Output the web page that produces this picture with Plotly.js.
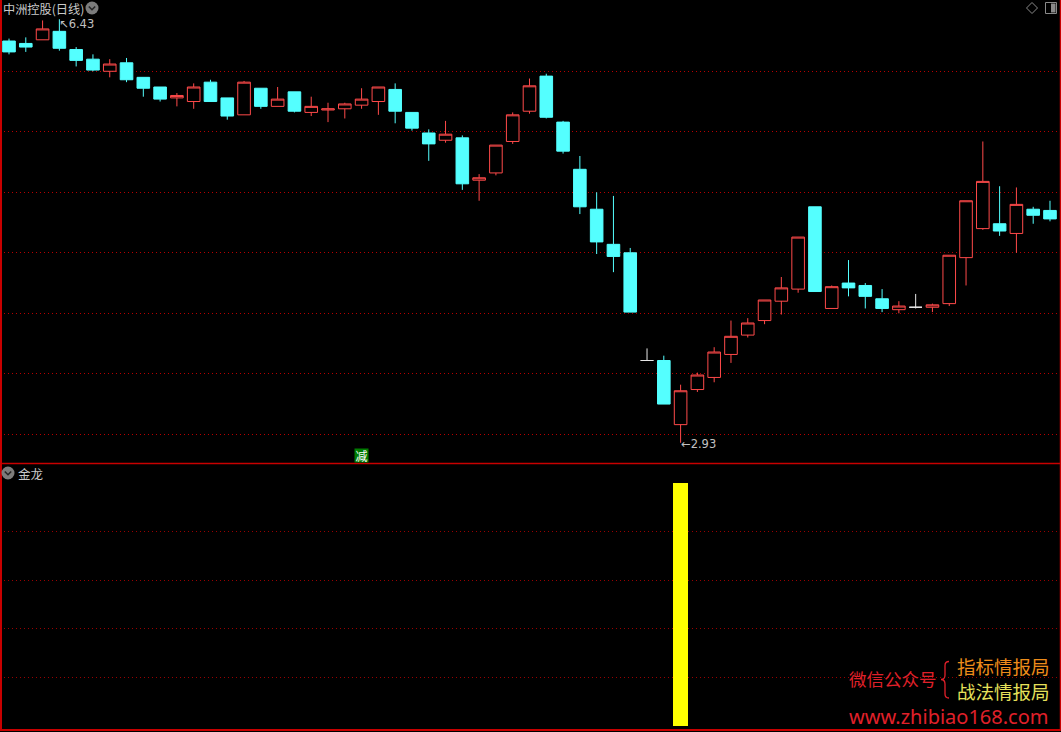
<!DOCTYPE html>
<html><head><meta charset="utf-8">
<script src="https://cdn.plot.ly/plotly-3.0.1.min.js"></script>
<style>html,body{margin:0;padding:0;background:#000;overflow:hidden}#chart{width:1061px;height:732px}</style>
</head><body><div id="chart"></div>
<script>
// ---------- data ----------
const stockName = '中洲控股(日线)';
const indicatorName = '金龙';
const opens  = [6.25,6.23,6.26,6.33,6.18,6.10,6.00,6.07,5.95,5.87,5.78,5.75,5.91,5.78,5.64,5.86,5.71,5.83,5.66,5.68,5.69,5.72,5.75,5.85,5.66,5.49,5.43,5.45,5.10,5.16,5.42,5.67,5.96,5.58,5.19,4.86,4.57,4.50,3.61,3.61,3.08,3.37,3.47,3.66,3.82,3.94,4.10,4.20,4.88,4.04,4.25,4.23,4.12,4.03,4.05,4.05,4.08,4.46,4.70,4.74,4.66,4.86,4.85];
const highs  = [6.27,6.28,6.42,6.43,6.20,6.14,6.10,6.11,5.95,5.87,5.82,5.90,5.93,5.78,5.92,5.86,5.87,5.83,5.79,5.74,5.74,5.86,5.87,5.90,5.66,5.52,5.59,5.47,5.15,5.39,5.66,5.94,5.98,5.59,5.30,5.00,4.97,4.54,3.71,3.65,3.41,3.51,3.72,3.94,3.96,4.11,4.30,4.63,4.88,4.23,4.44,4.25,4.20,4.10,4.16,4.08,4.48,4.93,5.42,5.05,5.04,4.88,4.93];
const lows   = [6.14,6.16,6.26,6.17,6.04,6.00,5.95,5.91,5.79,5.75,5.71,5.69,5.75,5.60,5.64,5.69,5.71,5.66,5.63,5.58,5.61,5.69,5.64,5.57,5.51,5.26,5.41,5.02,4.93,5.14,5.40,5.65,5.61,5.32,4.82,4.49,4.34,4.01,3.61,3.25,2.93,3.35,3.43,3.59,3.80,3.91,3.99,4.17,4.18,4.04,4.14,4.04,4.01,4.00,4.04,4.01,4.06,4.23,4.69,4.64,4.50,4.74,4.76];
const closes = [6.16,6.20,6.35,6.19,6.09,6.01,6.06,5.93,5.86,5.77,5.80,5.87,5.75,5.63,5.91,5.71,5.77,5.67,5.71,5.69,5.73,5.77,5.87,5.67,5.53,5.40,5.48,5.07,5.12,5.39,5.64,5.88,5.62,5.34,4.88,4.59,4.47,4.01,3.61,3.25,3.36,3.49,3.68,3.81,3.92,4.11,4.21,4.63,4.18,4.22,4.21,4.14,4.04,4.06,4.05,4.07,4.48,4.93,5.09,4.68,4.90,4.81,4.78];
const signal = [0,0,0,0,0,0,0,0,0,0,0,0,0,0,0,0,0,0,0,0,0,0,0,0,0,0,0,0,0,0,0,0,0,0,0,0,0,0,0,0,1,0,0,0,0,0,0,0,0,0,0,0,0,0,0,0,0,0,0,0,0,0,0];
const gridPrices = [3.0,3.5,4.0,4.5,5.0,5.5,6.0];
const gridSignal = [0.2,0.4,0.6,0.8];
const markerIndex = 21;
const markerText = '减';
const wmLeft = '微信公众号';
const wmTop = '指标情报局';
const wmBottom = '战法情报局';
const wmUrl = 'www.zhibiao168.com';

// ---------- styles ----------
const RED = '#ff4a4a', CYAN = '#54ffff', WHITE = '#e8e8e8';
const BORDER = '#c80000', GRID = '#b80000', GRID2 = '#9a0000';
const W = 1061, H = 732;
const px = v => v / W;
const py = v => 1 - v / H;
const CJK = 'Noto Sans CJK SC, Noto Sans, sans-serif';

const xIdx = closes.map((c, i) => i);
const groups = {up:{x:[],o:[],h:[],l:[],c:[]}, down:{x:[],o:[],h:[],l:[],c:[]}, flat:{x:[],o:[],h:[],l:[],c:[]}};
closes.forEach((c, i) => {
  const k = c > opens[i] ? 'up' : (c < opens[i] ? 'down' : 'flat');
  const g = groups[k];
  g.x.push(xIdx[i]); g.o.push(opens[i]); g.h.push(highs[i]); g.l.push(lows[i]); g.c.push(c);
});
function candle(g, lineCol, fillCol) {
  return {type:'candlestick', x:g.x, open:g.o, high:g.h, low:g.l, close:g.c,
    xaxis:'x', yaxis:'y', whiskerwidth:0, hoverinfo:'skip', showlegend:false,
    increasing:{line:{color:lineCol, width:1}, fillcolor:fillCol},
    decreasing:{line:{color:lineCol, width:1}, fillcolor:fillCol}};
}
const traces = [
  candle(groups.up, RED, '#000000'),
  candle(groups.down, CYAN, CYAN),
  candle(groups.flat, WHITE, WHITE),
  {type:'bar', x:xIdx, y:signal, xaxis:'x', yaxis:'y2', width:0.9,
   marker:{color:'#ffff00', line:{width:0}}, hoverinfo:'skip', showlegend:false}
];

const hiVal = Math.max(...highs), loVal = Math.min(...lows);
const hiIdx = highs.indexOf(hiVal), loIdx = lows.indexOf(loVal);

const shapes = [
  {type:'line', xref:'paper', yref:'paper', x0:px(1), x1:px(1), y0:py(0), y1:py(731), line:{color:BORDER, width:2}},
  {type:'line', xref:'paper', yref:'paper', x0:px(1060.5), x1:px(1060.5), y0:py(0), y1:py(731), line:{color:BORDER, width:1.5}},
  {type:'line', xref:'paper', yref:'paper', x0:0, x1:1, y0:py(463.5), y1:py(463.5), line:{color:BORDER, width:1.5}},
  {type:'line', xref:'paper', yref:'paper', x0:0, x1:1, y0:py(730), y1:py(730), line:{color:BORDER, width:2}},
  // title icon
  {type:'circle', xref:'paper', yref:'paper', x0:px(85.5), x1:px(98.5), y0:py(14.5), y1:py(1.5), fillcolor:'#7c7c7c', line:{width:0}},
  {type:'path', xref:'paper', yref:'paper', path:`M ${px(88.8)},${py(6.5)} L ${px(92)},${py(9.7)} L ${px(95.2)},${py(6.5)}`, line:{color:'#262626', width:1.6}},
  // indicator icon
  {type:'circle', xref:'paper', yref:'paper', x0:px(1.5), x1:px(14.5), y0:py(479.5), y1:py(466.5), fillcolor:'#7c7c7c', line:{width:0}},
  {type:'path', xref:'paper', yref:'paper', path:`M ${px(4.8)},${py(471.5)} L ${px(8)},${py(474.7)} L ${px(11.2)},${py(471.5)}`, line:{color:'#262626', width:1.6}},
  // top-right icons
  {type:'path', xref:'paper', yref:'paper', path:`M ${px(1032)},${py(2.5)} L ${px(1037.5)},${py(8)} L ${px(1032)},${py(13.5)} L ${px(1026.5)},${py(8)} Z`, line:{color:'#8a8a8a', width:1}},
  {type:'rect', xref:'paper', yref:'paper', x0:px(1045.5), x1:px(1056.5), y0:py(13.5), y1:py(2.5), line:{color:'#8a8a8a', width:1}},
  {type:'rect', xref:'paper', yref:'paper', x0:px(1051), x1:px(1055.5), y0:py(12.5), y1:py(3.5), fillcolor:'#8a8a8a', line:{width:0}},
  // watermark brace
  {type:'path', xref:'paper', yref:'paper', line:{color:'#e0202a', width:1.3},
   path:`M ${px(949)},${py(661.5)} Q ${px(945)},${py(661.5)} ${px(945)},${py(665.5)} L ${px(945)},${py(675)} Q ${px(945)},${py(679.5)} ${px(941)},${py(679.5)} Q ${px(945)},${py(679.5)} ${px(945)},${py(684)} L ${px(945)},${py(694)} Q ${px(945)},${py(698)} ${px(949)},${py(698)}`}
];

const ann = (o) => Object.assign({showarrow:false, xanchor:'left', yanchor:'middle', borderpad:0}, o);
const annotations = [
  ann({xref:'paper', yref:'paper', x:px(1.5), y:py(8.5), text:stockName, font:{family:CJK, size:12.2, color:'#c8c8c8'}}),
  ann({xref:'paper', yref:'paper', x:px(17), y:py(473), text:indicatorName, font:{family:CJK, size:12.5, color:'#c8c8c8'}}),
  ann({xref:'x', yref:'y', x:hiIdx, y:hiVal, yshift:-5, xshift:-1, text:'↖' + hiVal.toFixed(2), font:{family:'DejaVu Sans', size:11.5, color:'#c0c0c0'}}),
  ann({xref:'x', yref:'y', x:loIdx, y:loVal, yshift:-1, xshift:-1, text:'←' + loVal.toFixed(2), font:{family:'DejaVu Sans', size:11.5, color:'#c0c0c0'}}),
  ann({xref:'x', yref:'paper', x:markerIndex, y:py(455.5), xanchor:'center', width:13, height:13, bgcolor:'#007c00', text:markerText, font:{family:CJK, size:12, color:'#ffffff'}}),
  ann({xref:'paper', yref:'paper', x:px(848), y:py(678.5), text:wmLeft, font:{family:CJK, size:17.5, color:'#e0202a'}}),
  ann({xref:'paper', yref:'paper', x:px(956), y:py(666), text:wmTop, font:{family:CJK, size:18.5, color:'#ee8c1a'}}),
  ann({xref:'paper', yref:'paper', x:px(956), y:py(691), text:wmBottom, font:{family:CJK, size:18.5, color:'#e6e05a'}}),
  ann({xref:'paper', yref:'paper', x:px(848), y:py(716), text:wmUrl, font:{family:'Noto Sans', size:20, color:'#e0202a'}})
];

const hiddenAxis = {showticklabels:false, zeroline:false, showline:false, ticks:'', fixedrange:true};
const layout = {
  width: W, height: H,
  margin:{l:0, r:0, t:0, b:0, pad:0},
  paper_bgcolor:'#000000', plot_bgcolor:'#000000',
  showlegend:false, hovermode:false,
  boxgap:0.25, boxgroupgap:0, bargap:0,
  xaxis: Object.assign({}, hiddenAxis, {range:[-0.536, 62.656], showgrid:false, rangeslider:{visible:false}, anchor:'y'}),
  yaxis: Object.assign({}, hiddenAxis, {domain:[py(463), 1], range:[2.763, 6.589], tickmode:'array', tickvals:gridPrices, showgrid:true, gridcolor:GRID, griddash:'1px,3px', gridwidth:1}),
  yaxis2: Object.assign({}, hiddenAxis, {domain:[0, py(464)], range:[-0.0247, 1.078], tickmode:'array', tickvals:gridSignal, showgrid:true, gridcolor:GRID2, griddash:'1px,3px', gridwidth:1, anchor:'x'}),
  shapes: shapes,
  annotations: annotations
};
Plotly.newPlot('chart', traces, layout, {staticPlot:true, displayModeBar:false});
</script>
</body></html>
